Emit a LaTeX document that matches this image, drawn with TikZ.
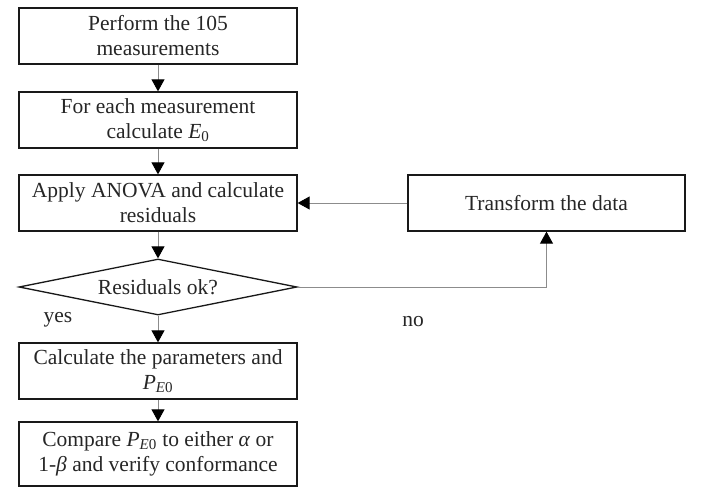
\documentclass[tikz,border=0pt]{standalone}
\usepackage{fontspec}
\setmainfont{Liberation Serif}
\usetikzlibrary{arrows.meta,shapes.geometric}
\begin{document}
\begin{tikzpicture}[x=1pt,y=1pt,
  box/.style={draw=black!90, line width=1.3pt, minimum width=278pt, minimum height=56pt, inner sep=0pt, align=center, text=black!85, font=\fontsize{21.5}{25}\selectfont},
  dec/.style={draw=black!90, line width=1.3pt, shape=diamond, aspect=4.96, minimum width=278pt, minimum height=56pt, inner sep=0pt, align=center, text=black!85, font=\fontsize{21.5}{25}\selectfont},
  conn/.style={draw=black!45, line width=0.9pt, -{Triangle[length=12pt,width=13pt,color=black]}},
  lab/.style={text=black!85, font=\fontsize{21.5}{25}\selectfont}]
\useasboundingbox (0,0) rectangle (701,-489);
\node[box] (b1) at (158,-36) {Perform the 105\\measurements};
\node[box] (b2) at (158,-120) {For each measurement\\calculate \textit{E}\textsubscript{0}};
\node[box] (b3) at (158,-203) {Apply ANOVA and calculate\\residuals};
\node[dec] (d) at (158,-287) {Residuals ok?};
\node[box] (b4) at (158,-371) {Calculate the parameters and\\\textit{P}\textsubscript{\textit{E}0}};
\node[box, minimum height=64pt] (b5) at (158,-454) {Compare \textit{P}\textsubscript{\textit{E}0} to either \textit{α} or\\1-\textit{β} and verify conformance};
\node[box, minimum width=277pt, minimum height=56pt] (t) at (546.5,-203) {Transform the data};
\node[lab] (yes) at (58,-320) {yes};
\node[lab] (no) at (413,-322) {no};
\draw[conn] (b1) -- (b2);
\draw[conn] (b2) -- (b3);
\draw[conn] (b3) -- (d);
\draw[conn] (d) -- (b4);
\draw[conn] (b4) -- (b5);
\draw[conn] (d.east) -| (t.south);
\draw[conn] (t.west) -- (b3.east);
\end{tikzpicture}
\end{document}
